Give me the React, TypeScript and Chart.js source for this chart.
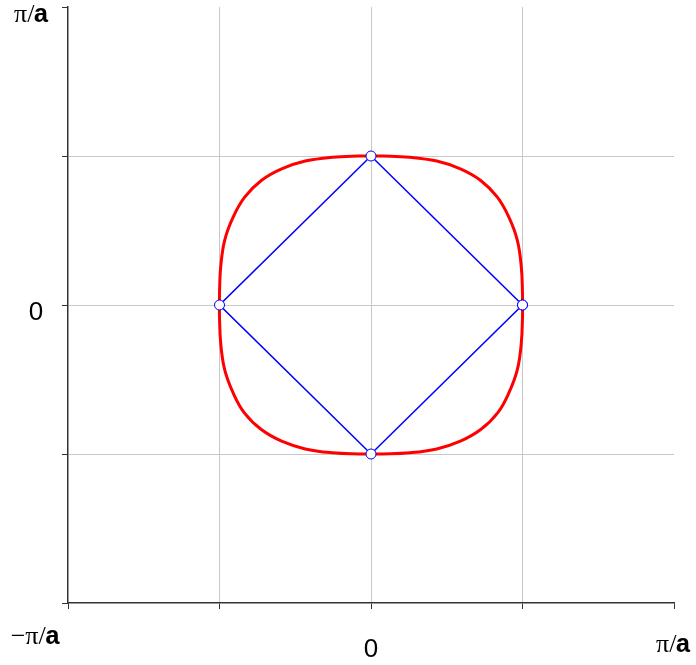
import React, { useEffect, useRef } from "react";
import { Chart, registerables } from "chart.js";

Chart.register(...registerables);

// Constant-energy contour (red), in units of pi/a
const curveKx = [
  0.5, 0.5, 0.496, 0.483, 0.455, 0.417, 0.362, 0.295, 0.217, 0.128, 0.04, 0,
  -0.04, -0.128, -0.217, -0.295, -0.362, -0.417, -0.455, -0.483, -0.496, -0.5, -0.5,
  -0.5, -0.496, -0.483, -0.455, -0.418, -0.362, -0.295, -0.217, -0.128, -0.04, 0,
  0.04, 0.128, 0.217, 0.295, 0.362, 0.418, 0.455, 0.483, 0.496, 0.5, 0.5,
];
const curveKy = [
  0, 0.04, 0.128, 0.217, 0.295, 0.362, 0.418, 0.457, 0.483, 0.496, 0.5, 0.5,
  0.5, 0.496, 0.483, 0.457, 0.418, 0.362, 0.295, 0.217, 0.128, 0.04, 0,
  -0.04, -0.128, -0.217, -0.295, -0.362, -0.418, -0.457, -0.483, -0.496, -0.5, -0.5,
  -0.5, -0.496, -0.483, -0.457, -0.418, -0.362, -0.295, -0.217, -0.128, -0.04, 0,
];

// Diamond (blue)
const diamondKx = [0.5, 0, -0.5, 0, 0.5];
const diamondKy = [0, 0.5, 0, -0.5, 0];

// Axis tick labels
const xTickLabels = [
  { value: -1, text: "−π/a" },
  { value: 0, text: "0" },
  { value: 1, text: "π/a" },
];
const yTickLabels = [
  { value: 1, text: "π/a" },
  { value: 0, text: "0" },
];

function drawPiA(ctx: CanvasRenderingContext2D, text: string, cx: number, baseline: number) {
  const pre = text.slice(0, text.length - 1);
  const last = text.slice(text.length - 1);
  const serif = "26px 'Liberation Serif'";
  const mono = "bold 26px 'Liberation Mono'";
  ctx.font = serif;
  const w1 = ctx.measureText(pre).width;
  ctx.font = mono;
  const w2 = ctx.measureText(last).width;
  const x0 = cx - (w1 + w2) / 2;
  ctx.textBaseline = "alphabetic";
  ctx.textAlign = "left";
  ctx.fillStyle = "#000";
  ctx.font = serif;
  ctx.fillText(pre, x0, baseline);
  ctx.font = mono;
  ctx.fillText(last, x0 + w1 - 1, baseline);
}

const labelPlugin = {
  id: "labels",
  afterDraw(chart: any) {
    const ctx = chart.ctx as CanvasRenderingContext2D;
    const xs = chart.scales.x;
    const ys = chart.scales.y;
    ctx.save();
    for (const t of xTickLabels) {
      const px = xs.getPixelForValue(t.value);
      if (t.text === "0") {
        ctx.font = "26px 'Liberation Sans'";
        ctx.fillStyle = "#000";
        ctx.textAlign = "center";
        ctx.textBaseline = "alphabetic";
        ctx.fillText(t.text, px, 657);
      } else if (t.value < 0) {
        drawPiA(ctx, t.text, 36, 644);
      } else {
        drawPiA(ctx, t.text, px, 652);
      }
    }
    for (const t of yTickLabels) {
      const py = ys.getPixelForValue(t.value);
      if (t.text === "0") {
        ctx.font = "26px 'Liberation Sans'";
        ctx.fillStyle = "#000";
        ctx.textAlign = "center";
        ctx.textBaseline = "alphabetic";
        ctx.fillText(t.text, 36, py + 15);
      } else {
        drawPiA(ctx, t.text, 32, py + 15);
      }
    }
    ctx.restore();
  },
};

export default function App() {
  const ref = useRef<HTMLCanvasElement | null>(null);
  useEffect(() => {
    if (!ref.current) return;
    const gridColor = (c: any) =>
      Math.abs(c.tick?.value ?? 0) > 0.99 ? "rgba(0,0,0,0)" : "#c8c8c8";
    const chart = new Chart(ref.current, {
      type: "scatter",
      data: {
        datasets: [
          {
            data: diamondKx.map((x, i) => ({ x, y: diamondKy[i] })),
            showLine: true,
            borderColor: "#0000ff",
            borderWidth: 1.6,
            tension: 0,
            pointRadius: 5,
            pointBackgroundColor: "#ffffff",
            pointBorderColor: "#0000ff",
            pointBorderWidth: 1,
          },
          {
            data: curveKx.map((x, i) => ({ x, y: curveKy[i] })),
            showLine: true,
            borderColor: "#ff0000",
            borderWidth: 3,
            tension: 0.4,
            pointRadius: 0,
          },
        ],
      },
      options: {
        animation: false,
        responsive: false,
        devicePixelRatio: 1,
        layout: { padding: { left: 62, top: 7, right: 22, bottom: 56 } },
        plugins: { legend: { display: false }, tooltip: { enabled: false } },
        scales: {
          x: {
            type: "linear",
            min: -1,
            max: 1,
            ticks: { stepSize: 0.5, display: false },
            grid: { color: gridColor, tickColor: "#333", tickLength: 6, lineWidth: 1 },
            border: { display: true, color: "#333", width: 1.5 },
          },
          y: {
            type: "linear",
            min: -1,
            max: 1,
            ticks: { stepSize: 0.5, display: false },
            grid: { color: gridColor, tickColor: "#333", tickLength: 6, lineWidth: 1 },
            border: { display: true, color: "#333", width: 1.5 },
          },
        },
      },
      plugins: [labelPlugin],
    });
    return () => chart.destroy();
  }, []);
  return (
    <div style={{ position: "absolute", left: 0, top: 0, width: 696, height: 665, background: "#fff" }}>
      <canvas ref={ref} width={696} height={665} style={{ display: "block" }} />
    </div>
  );
}
